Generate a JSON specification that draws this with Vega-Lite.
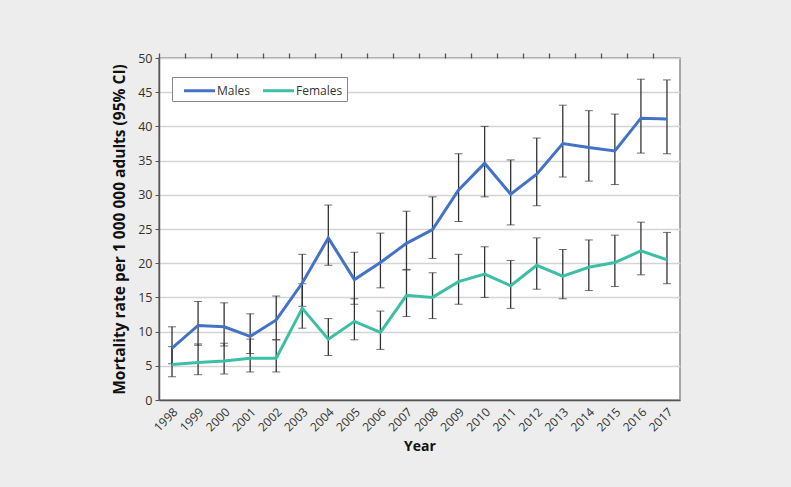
{
  "$schema": "https://vega.github.io/schema/vega-lite/v6.json",
  "autosize": {"type": "none"},
  "width": 521,
  "height": 342,
  "padding": {"left": 159, "top": 58, "right": 111, "bottom": 87},
  "background": "#ecedec",
  "config": {
    "font": "Open Sans",
    "view": {"fill": "white", "stroke": "#8c8c8c", "strokeWidth": 1.5},
    "axis": {"labelFont": "Open Sans", "titleFont": "Open Sans"}
  },
  "data": {"values": [
    {"year": "1998", "sex": "Males", "value": 7.6, "lower": 5.3, "upper": 10.7},
    {"year": "1999", "sex": "Males", "value": 10.9, "lower": 8.0, "upper": 14.4},
    {"year": "2000", "sex": "Males", "value": 10.7, "lower": 7.9, "upper": 14.2},
    {"year": "2001", "sex": "Males", "value": 9.3, "lower": 6.8, "upper": 12.6},
    {"year": "2002", "sex": "Males", "value": 11.7, "lower": 8.8, "upper": 15.2},
    {"year": "2003", "sex": "Males", "value": 17.1, "lower": 13.7, "upper": 21.3},
    {"year": "2004", "sex": "Males", "value": 23.7, "lower": 19.7, "upper": 28.5},
    {"year": "2005", "sex": "Males", "value": 17.6, "lower": 14.0, "upper": 21.6},
    {"year": "2006", "sex": "Males", "value": 20.1, "lower": 16.4, "upper": 24.4},
    {"year": "2007", "sex": "Males", "value": 22.9, "lower": 19.0, "upper": 27.6},
    {"year": "2008", "sex": "Males", "value": 24.9, "lower": 20.7, "upper": 29.7},
    {"year": "2009", "sex": "Males", "value": 30.7, "lower": 26.1, "upper": 36.0},
    {"year": "2010", "sex": "Males", "value": 34.6, "lower": 29.7, "upper": 40.0},
    {"year": "2011", "sex": "Males", "value": 30.1, "lower": 25.6, "upper": 35.1},
    {"year": "2012", "sex": "Males", "value": 33.0, "lower": 28.4, "upper": 38.3},
    {"year": "2013", "sex": "Males", "value": 37.5, "lower": 32.6, "upper": 43.1},
    {"year": "2014", "sex": "Males", "value": 36.9, "lower": 32.0, "upper": 42.3},
    {"year": "2015", "sex": "Males", "value": 36.4, "lower": 31.5, "upper": 41.8},
    {"year": "2016", "sex": "Males", "value": 41.2, "lower": 36.1, "upper": 46.9},
    {"year": "2017", "sex": "Males", "value": 41.1, "lower": 36.0, "upper": 46.8},
    {"year": "1998", "sex": "Females", "value": 5.2, "lower": 3.4, "upper": 7.8},
    {"year": "1999", "sex": "Females", "value": 5.5, "lower": 3.7, "upper": 8.2},
    {"year": "2000", "sex": "Females", "value": 5.7, "lower": 3.8, "upper": 8.3},
    {"year": "2001", "sex": "Females", "value": 6.1, "lower": 4.1, "upper": 8.9},
    {"year": "2002", "sex": "Females", "value": 6.1, "lower": 4.1, "upper": 8.8},
    {"year": "2003", "sex": "Females", "value": 13.4, "lower": 10.5, "upper": 17.0},
    {"year": "2004", "sex": "Females", "value": 8.9, "lower": 6.5, "upper": 11.9},
    {"year": "2005", "sex": "Females", "value": 11.5, "lower": 8.8, "upper": 14.8},
    {"year": "2006", "sex": "Females", "value": 9.9, "lower": 7.4, "upper": 13.0},
    {"year": "2007", "sex": "Females", "value": 15.3, "lower": 12.2, "upper": 19.1},
    {"year": "2008", "sex": "Females", "value": 15.0, "lower": 11.9, "upper": 18.6},
    {"year": "2009", "sex": "Females", "value": 17.3, "lower": 14.0, "upper": 21.3},
    {"year": "2010", "sex": "Females", "value": 18.4, "lower": 15.0, "upper": 22.4},
    {"year": "2011", "sex": "Females", "value": 16.7, "lower": 13.4, "upper": 20.4},
    {"year": "2012", "sex": "Females", "value": 19.7, "lower": 16.2, "upper": 23.7},
    {"year": "2013", "sex": "Females", "value": 18.1, "lower": 14.8, "upper": 22.0},
    {"year": "2014", "sex": "Females", "value": 19.4, "lower": 16.0, "upper": 23.4},
    {"year": "2015", "sex": "Females", "value": 20.1, "lower": 16.6, "upper": 24.1},
    {"year": "2016", "sex": "Females", "value": 21.8, "lower": 18.3, "upper": 26.0},
    {"year": "2017", "sex": "Females", "value": 20.5, "lower": 17.0, "upper": 24.5}
  ]},
  "resolve": {"axis": {"x": "independent"}},
  "layer": [
    {
      "mark": {"type": "errorbar", "ticks": {"size": 8, "color": "#333", "strokeWidth": 1.3}, "rule": {"color": "#333", "strokeWidth": 1.3}},
      "encoding": {
        "x": {
          "field": "year", "type": "ordinal",
          "scale": {"type": "band", "paddingInner": 0, "paddingOuter": 0},
          "axis": {
            "title": "Year", "titleFontSize": 14, "titleFontWeight": "bold", "titleColor": "#111",
            "titlePadding": 6,
            "labelAngle": -45, "labelFontSize": 12, "labelColor": "#333", "labelPadding": 6,
            "ticks": false, "domainColor": "#555", "domainWidth": 1.5, "grid": false
          }
        },
        "y": {
          "field": "lower", "type": "quantitative",
          "scale": {"domain": [0, 50], "nice": false},
          "axis": {
            "title": "Mortality rate per 1 000 000 adults (95% CI)",
            "titleFontSize": 15.5, "titleFontWeight": "bold", "titleColor": "#111", "titlePadding": 10,
            "values": [0, 5, 10, 15, 20, 25, 30, 35, 40, 45, 50],
            "labelFontSize": 12.5, "labelColor": "#333", "labelPadding": 3,
            "tickSize": 4, "tickColor": "#555", "domainColor": "#555", "domainWidth": 1.5,
            "gridColor": "#d4d4d4", "gridWidth": 1.5
          }
        },
        "y2": {"field": "upper"}
      }
    },
    {
      "mark": {"type": "line", "strokeWidth": 3},
      "encoding": {
        "x": {
          "field": "year", "type": "ordinal",
          "axis": {
            "title": null, "labels": false, "domain": false, "grid": false,
            "bandPosition": 0, "tickSize": 5, "tickColor": "#555", "tickWidth": 1.3
          }
        },
        "y": {
          "field": "value", "type": "quantitative",
          "scale": {"domain": [0, 50], "nice": false},
          "axis": {
            "title": "Mortality rate per 1 000 000 adults (95% CI)",
            "titleFontSize": 15.5, "titleFontWeight": "bold", "titleColor": "#111", "titlePadding": 10,
            "values": [0, 5, 10, 15, 20, 25, 30, 35, 40, 45, 50],
            "labelFontSize": 12.5, "labelColor": "#333", "labelPadding": 3,
            "tickSize": 4, "tickColor": "#555", "domainColor": "#555", "domainWidth": 1.5,
            "gridColor": "#d4d4d4", "gridWidth": 1.5
          }
        },
        "color": {
          "field": "sex", "type": "nominal",
          "scale": {"domain": ["Males", "Females"], "range": ["#4472c4", "#3dbfa6"]},
          "legend": {
            "title": null, "orient": "none", "legendX": 13, "legendY": 19,
            "direction": "horizontal", "fillColor": "white", "strokeColor": "#888",
            "padding": 4, "symbolType": "M-2,0H2", "symbolSize": 240, "symbolStrokeWidth": 3,
            "symbolOffset": 14,
            "labelFontSize": 12, "labelColor": "#333", "columnPadding": 5, "labelOffset": 8
          }
        }
      }
    }
  ]
}
